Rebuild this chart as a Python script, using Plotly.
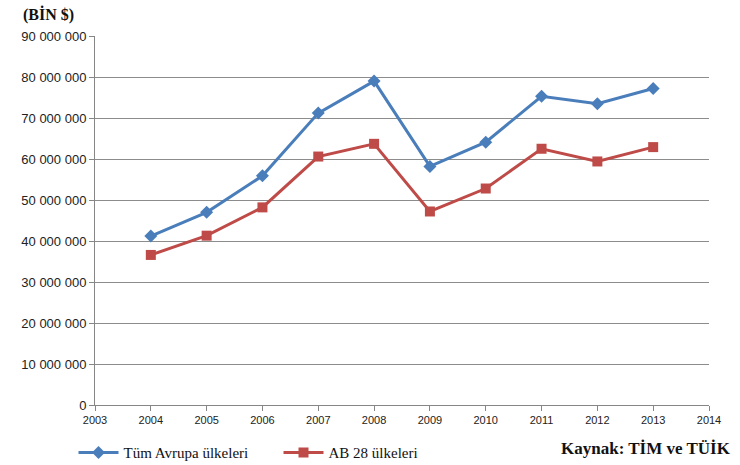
import plotly.graph_objects as go

years = [2004, 2005, 2006, 2007, 2008, 2009, 2010, 2011, 2012, 2013]
tum_avrupa = [41.2e6, 47.0e6, 55.9e6, 71.2e6, 79.0e6, 58.2e6, 64.1e6, 75.3e6, 73.5e6, 77.2e6]
ab28 = [36.6e6, 41.3e6, 48.2e6, 60.6e6, 63.7e6, 47.2e6, 52.8e6, 62.5e6, 59.4e6, 62.9e6]

y_ticks = list(range(0, 90_000_001, 10_000_000))
y_labels = ["0"] + [f"{v:,}".replace(",", " ") for v in y_ticks[1:]]
x_ticks = list(range(2003, 2015))

SERIF = "Liberation Serif, Times New Roman, serif"

fig = go.Figure()
fig.add_trace(go.Scatter(
    x=years, y=tum_avrupa, name="Tüm Avrupa ülkeleri", mode="lines+markers",
    line=dict(color="#4a7ebb", width=3),
    marker=dict(symbol="diamond", size=10, color="#4a7ebb"),
))
fig.add_trace(go.Scatter(
    x=years, y=ab28, name="AB 28 ülkeleri", mode="lines+markers",
    line=dict(color="#be4b48", width=3),
    marker=dict(symbol="square", size=10, color="#be4b48"),
))

fig.update_layout(
    width=740, height=465,
    margin=dict(l=95, r=31, t=36, b=60, autoexpand=False),
    paper_bgcolor="white", plot_bgcolor="white",
    font=dict(family="Liberation Sans, Arial, sans-serif", size=12, color="#222"),
    showlegend=True,
    legend=dict(
        orientation="h", x=-0.035, xanchor="left", y=-0.085, yanchor="top",
        font=dict(family=SERIF, size=15, color="#111"),
        itemwidth=40, tracegroupgap=0,
        entrywidth=150, entrywidthmode="pixels",
    ),
    xaxis=dict(
        range=[2003, 2014], tickvals=x_ticks, ticktext=[str(t) for t in x_ticks],
        tickfont=dict(size=11),
        showgrid=False, showline=True, linecolor="#868686", linewidth=1,
        ticks="outside", ticklen=5, tickcolor="#868686", zeroline=False,
    ),
    yaxis=dict(
        range=[0, 90_000_000], tickvals=y_ticks, ticktext=y_labels,
        tickfont=dict(size=13),
        showgrid=True, gridcolor="#8c8c8c", gridwidth=1,
        showline=True, linecolor="#868686", linewidth=1,
        ticks="outside", ticklen=5, tickcolor="#868686", zeroline=False,
    ),
    annotations=[
        dict(text="<b>(BİN $)</b>", xref="paper", yref="paper", x=-0.12, y=1.0,
             xanchor="left", yanchor="bottom", yshift=10, showarrow=False,
             font=dict(family=SERIF, size=16, color="#111")),
        dict(text="<b>Kaynak: TİM ve TÜİK</b>", xref="paper", yref="paper", x=1.0, y=0,
             xanchor="right", yanchor="top", xshift=24, yshift=-32, showarrow=False,
             font=dict(family=SERIF, size=17, color="#111")),
    ],
)

fig.write_html("out.html")
